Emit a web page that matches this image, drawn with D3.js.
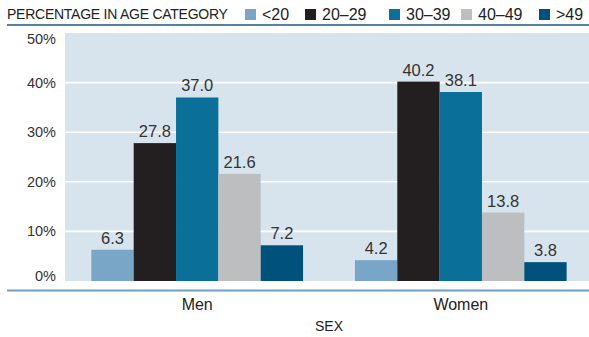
<!DOCTYPE html>
<html>
<head>
<meta charset="utf-8">
<script src="https://cdn.jsdelivr.net/npm/d3@7/dist/d3.min.js"></script>
<style>
  html, body { margin: 0; padding: 0; background: #fff; }
  svg { display: block; font-family: "Liberation Sans", Arial, sans-serif; }
</style>
</head>
<body>
<svg id="chart" width="589" height="337"></svg>
<script>
// Share of each sex falling in each age group (percent)
const sexes = ["Men", "Women"];
const ageGroups = ["<20", "20\u201329", "30\u201339", "40\u201349", ">49"];
const menValues = [6.3, 27.8, 37.0, 21.6, 7.2];
const womenValues = [4.2, 40.2, 38.1, 13.8, 3.8];
const yTicks = [0, 10, 20, 30, 40, 50];
const groupColors = ["#79a5c6", "#231f20", "#0b7099", "#bcbec0", "#00527c"];

const rows = sexes.map((s, i) => ({
  sex: s,
  values: (i === 0 ? menValues : womenValues).map((v, j) => ({ group: ageGroups[j], value: v }))
}));

const svg = d3.select("#chart");
const W = 589, H = 337;
const plot = { left: 65, right: 593, top: 33, bottom: 281 };

const x0 = d3.scaleBand().domain(sexes).range([plot.left, plot.right]).paddingInner(0.197).paddingOuter(0.1);
const x1 = d3.scaleBand().domain(ageGroups).range([0, x0.bandwidth()]);
const y = d3.scaleLinear().domain([0, 50]).range([plot.bottom, plot.top]);
const color = d3.scaleOrdinal().domain(ageGroups).range(groupColors);

// plot background
svg.append("rect")
  .attr("x", plot.left).attr("y", plot.top)
  .attr("width", W - plot.left).attr("height", plot.bottom - plot.top)
  .attr("fill", "#d7e4ee");

// horizontal gridlines
svg.append("g").selectAll("line")
  .data(yTicks.filter(t => t > 0 && t < 50))
  .join("line")
  .attr("x1", plot.left).attr("x2", W)
  .attr("y1", d => y(d)).attr("y2", d => y(d))
  .attr("stroke", "#fff").attr("stroke-width", 1.6);

// y-axis tick labels
svg.append("g").selectAll("text")
  .data(yTicks)
  .join("text")
  .attr("x", 56)
  .attr("y", d => Math.min(Math.max(y(d), plot.top + 6), plot.bottom - 5))
  .attr("dy", "0.35em")
  .attr("text-anchor", "end")
  .attr("font-size", 14.5)
  .attr("fill", "#333")
  .text(d => d + "%");

// bars
const groups = svg.append("g").selectAll("g")
  .data(rows)
  .join("g")
  .attr("transform", d => `translate(${x0(d.sex)},0)`);

groups.selectAll("rect")
  .data(d => d.values)
  .join("rect")
  .attr("x", d => x1(d.group))
  .attr("width", x1.bandwidth())
  .attr("y", d => y(d.value))
  .attr("height", d => y(0) - y(d.value))
  .attr("fill", d => color(d.group));

// value labels
groups.selectAll("text")
  .data(d => d.values)
  .join("text")
  .attr("x", d => x1(d.group) + x1.bandwidth() / 2)
  .attr("y", d => y(d.value) - 6)
  .attr("text-anchor", "middle")
  .attr("font-size", 16.5)
  .attr("fill", "#333")
  .text(d => d.value.toFixed(1));

// bottom rule
svg.append("line")
  .attr("x1", 7).attr("x2", W)
  .attr("y1", 290.5).attr("y2", 290.5)
  .attr("stroke", "#6e9fc0").attr("stroke-width", 2);

// category labels
svg.append("g").selectAll("text")
  .data(sexes)
  .join("text")
  .attr("x", d => x0(d) + x0.bandwidth() / 2)
  .attr("y", 310)
  .attr("text-anchor", "middle")
  .attr("font-size", 16)
  .attr("fill", "#222")
  .text(d => d);

svg.append("text")
  .attr("x", (plot.left + plot.right) / 2)
  .attr("y", 331)
  .attr("text-anchor", "middle")
  .attr("font-size", 14)
  .attr("fill", "#222")
  .text("SEX");

// header: title and legend
svg.append("text")
  .attr("x", 7).attr("y", 19)
  .attr("font-size", 14)
  .attr("letter-spacing", -0.25)
  .attr("fill", "#222")
  .text("PERCENTAGE IN AGE CATEGORY");

svg.append("line")
  .attr("x1", 7).attr("x2", W)
  .attr("y1", 25).attr("y2", 25)
  .attr("stroke", "#1d5a7c").attr("stroke-width", 1.5);

const legendX = [245, 305, 389, 461, 539];
const legend = svg.append("g").selectAll("g")
  .data(ageGroups)
  .join("g")
  .attr("transform", (d, i) => `translate(${legendX[i]},0)`);
legend.append("rect")
  .attr("x", 0).attr("y", 9)
  .attr("width", 11).attr("height", 11)
  .attr("fill", d => color(d));
legend.append("text")
  .attr("x", 17).attr("y", 19.5)
  .attr("font-size", 16)
  .attr("fill", "#222")
  .text(d => d);
</script>
</body>
</html>
